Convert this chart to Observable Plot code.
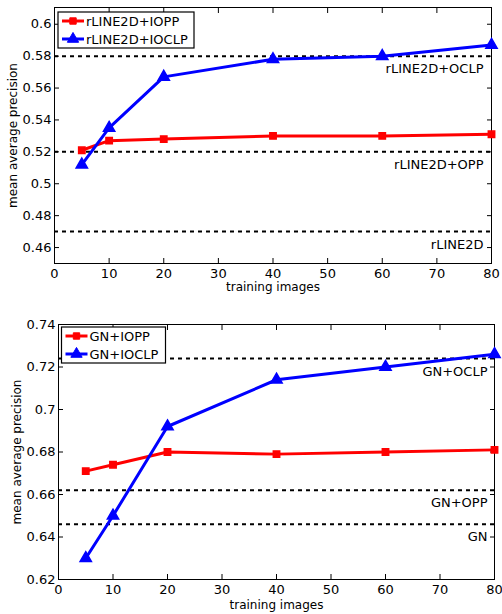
<!DOCTYPE html>
<html><head><meta charset="utf-8">
<script src="https://cdn.jsdelivr.net/npm/d3@7"></script>
<script src="https://cdn.jsdelivr.net/npm/@observablehq/plot@0.6"></script>
<style>
body{margin:0;background:#fff}
#chart svg{display:block}
</style>
</head><body><div id="chart"></div>
<script>
// ---- data ----
const trainingImages = [5, 10, 20, 40, 60, 80];
const xTicks = [0, 10, 20, 30, 40, 50, 60, 70, 80];

const topNames = ["rLINE2D+IOPP", "rLINE2D+IOCLP"];
const topIOPP = [0.521, 0.527, 0.528, 0.530, 0.530, 0.531];
const topIOCLP = [0.512, 0.535, 0.567, 0.578, 0.580, 0.587];
const topRefNames = ["rLINE2D+OCLP", "rLINE2D+OPP", "rLINE2D"];
const topRefValues = [0.58, 0.52, 0.47];
const topYTicks = [0.46, 0.48, 0.5, 0.52, 0.54, 0.56, 0.58, 0.6];
const topYTickLabels = ["0.46", "0.48", "0.5", "0.52", "0.54", "0.56", "0.58", "0.6"];

const botNames = ["GN+IOPP", "GN+IOCLP"];
const botIOPP = [0.671, 0.674, 0.680, 0.679, 0.680, 0.681];
const botIOCLP = [0.630, 0.650, 0.692, 0.714, 0.720, 0.726];
const botRefNames = ["GN+OCLP", "GN+OPP", "GN"];
const botRefValues = [0.724, 0.662, 0.646];
const botYTicks = [0.62, 0.64, 0.66, 0.68, 0.7, 0.72, 0.74];
const botYTickLabels = ["0.62", "0.64", "0.66", "0.68", "0.7", "0.72", "0.74"];

const xLabel = "training images";
const yLabel = "mean average precision";

// ---- drawing ----
const RED = "#ff0000", BLUE = "#0000ff";

function panel(cfg) {
  const red = trainingImages.map((x, i) => ({x, y: cfg.iopp[i]}));
  const blue = trainingImages.map((x, i) => ({x, y: cfg.ioclp[i]}));
  const refs = cfg.refNames.map((name, i) => ({name, value: cfg.refValues[i]}));
  const fmt = d => cfg.yTickLabels[cfg.yTicks.indexOf(d)];
  const svg = Plot.plot({
    width: 502, height: cfg.height,
    marginLeft: cfg.ml, marginRight: cfg.mr, marginTop: cfg.mt, marginBottom: cfg.mb,
    style: {fontFamily: "'DejaVu Sans', sans-serif", fontSize: "13px", background: "white", color: "black", overflow: "visible"},
    x: {domain: [0, 80], label: null},
    y: {domain: cfg.yDomain, label: null},
    marks: [
      Plot.ruleY(refs, {y: "value", stroke: "black", strokeWidth: 2, strokeDasharray: "4,4"}),
      Plot.text(refs, {y: "value", text: "name", frameAnchor: "right", textAnchor: "end", lineAnchor: "middle", dx: cfg.refDx, dy: 13, fill: "black"}),
      Plot.frame({stroke: "black", strokeWidth: 1}),
      Plot.axisX(xTicks, {anchor: "bottom", tickSize: 0, tickPadding: 5, tickFormat: d => String(d), label: null}),
      Plot.axisX(xTicks, {anchor: "bottom", tickSize: -5, tickFormat: () => "", label: null}),
      Plot.axisX(xTicks, {anchor: "top", tickSize: -5, tickFormat: () => "", label: null}),
      Plot.axisY(cfg.yTicks, {anchor: "left", tickSize: 0, tickPadding: 3, tickFormat: fmt, label: null}),
      Plot.axisY(cfg.yTicks, {anchor: "left", tickSize: -5, tickFormat: () => "", label: null}),
      Plot.axisY(cfg.yTicks, {anchor: "right", tickSize: -5, tickFormat: () => "", label: null}),
      Plot.text([xLabel], {text: d => d, frameAnchor: "bottom", textAnchor: "middle", lineAnchor: "middle", dy: cfg.xlDy, fontSize: 12, fill: "black"}),
      Plot.text([yLabel], {text: d => d, frameAnchor: "left", textAnchor: "middle", lineAnchor: "middle", rotate: -90, dx: -41, fontSize: 12, fill: "black"}),
      Plot.line(red, {x: "x", y: "y", stroke: RED, strokeWidth: 3}),
      Plot.dot(red, {x: "x", y: "y", symbol: "square", fill: RED, stroke: RED, r: 3.6}),
      Plot.line(blue, {x: "x", y: "y", stroke: BLUE, strokeWidth: 3}),
      Plot.dot(blue, {x: "x", y: "y", symbol: "triangle", fill: BLUE, stroke: BLUE, r: 4.2})
    ]
  });
  // legend box
  const g = d3.select(svg).append("g")
    .attr("font-family", "'DejaVu Sans', sans-serif").attr("font-size", 13).attr("text-anchor", "start");
  const lx = cfg.ml + cfg.legDx, ly = cfg.mt + cfg.legDy;
  g.append("rect").attr("x", lx).attr("y", ly).attr("width", cfg.legW).attr("height", 36)
    .attr("fill", "white").attr("stroke", "black").attr("stroke-width", 1.2);
  const entries = [{name: cfg.names[0], color: RED, sym: d3.symbolSquare, size: Math.PI * 3.6 * 3.6},
                   {name: cfg.names[1], color: BLUE, sym: d3.symbolTriangle, size: Math.PI * 4.2 * 4.2}];
  entries.forEach((e, i) => {
    const cy = ly + 9 + i * 18;
    g.append("line").attr("x1", lx + 4).attr("x2", lx + 26).attr("y1", cy).attr("y2", cy)
      .attr("stroke", e.color).attr("stroke-width", 3);
    g.append("path").attr("d", d3.symbol(e.sym, e.size)()).attr("transform", `translate(${lx + 15},${cy})`)
      .attr("fill", e.color).attr("stroke", e.color);
    g.append("text").attr("x", lx + 28).attr("y", cy).attr("dy", "0.35em").attr("fill", "black")
      .attr("text-anchor", "start").text(e.name);
  });
  return svg;
}

const chart = document.getElementById("chart");
chart.appendChild(panel({
  height: 300, ml: 54, mr: 11, mt: 7, mb: 37, yDomain: [0.45, 0.6105],
  iopp: topIOPP, ioclp: topIOCLP, names: topNames,
  refNames: topRefNames, refValues: topRefValues, refDx: -8,
  yTicks: topYTicks, yTickLabels: topYTickLabels, xlDy: 24,
  legDx: 4, legDy: 5, legW: 136
}));
chart.appendChild(panel({
  height: 314, ml: 58, mr: 8, mt: 24, mb: 35, yDomain: [0.62, 0.74],
  iopp: botIOPP, ioclp: botIOCLP, names: botNames,
  refNames: botRefNames, refValues: botRefValues, refDx: -7,
  yTicks: botYTicks, yTickLabels: botYTickLabels, xlDy: 26,
  legDx: 3.5, legDy: 3, legW: 104
}));
</script>
</body></html>
